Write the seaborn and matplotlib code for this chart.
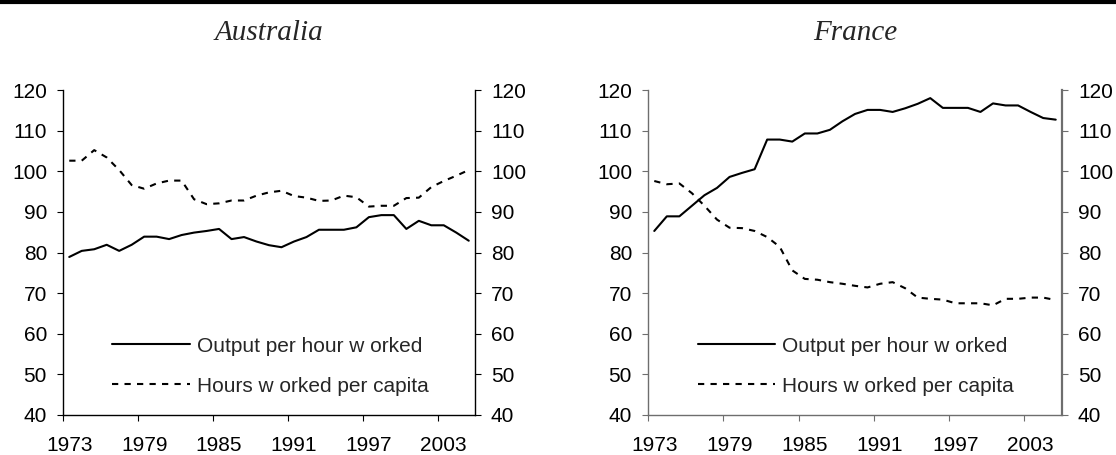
import numpy as np
import pandas as pd
import matplotlib
matplotlib.use("Agg")
import matplotlib.pyplot as plt
from matplotlib.lines import Line2D
import seaborn as sns

# ---------------- data ----------------
years = list(range(1973, 2006))
tick_years = [1973, 1979, 1985, 1991, 1997, 2003]
y_ticks = [40, 50, 60, 70, 80, 90, 100, 110, 120]

aus_output = [78.9, 80.4, 80.8, 81.9, 80.4, 81.9, 83.9, 83.9, 83.3, 84.3, 84.9,
              85.3, 85.8, 83.3, 83.8, 82.7, 81.8, 81.3, 82.7, 83.8, 85.6, 85.6,
              85.6, 86.2, 88.7, 89.2, 89.2, 85.8, 87.8, 86.7, 86.7, 84.9, 82.9]
aus_hours = [102.6, 102.6, 105.2, 103.4, 100.3, 96.6, 95.7, 97.0, 97.7, 97.7, 93.1,
             91.9, 92.1, 92.8, 92.8, 94.0, 94.8, 95.2, 93.9, 93.5, 92.7, 92.8,
             94.0, 93.6, 91.3, 91.5, 91.5, 93.4, 93.5, 96.1, 97.6, 98.9, 100.3]

fra_output = [85.3, 88.9, 88.9, 91.5, 94.1, 95.9, 98.6, 99.6, 100.5, 107.8, 107.8,
              107.3, 109.3, 109.3, 110.2, 112.3, 114.1, 115.1, 115.1, 114.6, 115.5,
              116.6, 118.0, 115.6, 115.6, 115.6, 114.6, 116.7, 116.2, 116.2, 114.6,
              113.1, 112.7]
fra_hours = [97.6, 96.8, 97.0, 94.6, 91.5, 88.1, 86.1, 86.0, 85.3, 83.8, 81.4,
             75.6, 73.5, 73.3, 72.7, 72.3, 71.8, 71.4, 72.3, 72.7, 71.2, 68.9,
             68.6, 68.4, 67.5, 67.5, 67.5, 67.0, 68.6, 68.6, 68.9, 68.9, 68.3]

titles = ["Australia", "France"]
labels = ["Output per hour w orked", "Hours w orked per capita"]

# ---------------- style ----------------
sns.set_theme(style="white")
plt.rcParams["font.family"] = ["Liberation Sans", "DejaVu Sans"]

W, H, DPI = 1116, 455, 100
fig = plt.figure(figsize=(W / DPI, H / DPI), dpi=DPI)

panels = [
    dict(title=titles[0], out=aus_output, hrs=aus_hours, left=63, right=475, spine="black"),
    dict(title=titles[1], out=fra_output, hrs=fra_hours, left=648, right=1062, spine="#6e6e6e"),
]
top_px, bot_px = 90, 415
FS = 15
dash = (0, (3, 3))

for p in panels:
    ax = fig.add_axes([p["left"] / W, 1 - bot_px / H, (p["right"] - p["left"]) / W,
                       (bot_px - top_px) / H])
    df = pd.DataFrame({"year": years, "out": p["out"], "hrs": p["hrs"]})
    sns.lineplot(data=df, x="year", y="out", ax=ax, color="black", linewidth=1.5,
                 label=labels[0])
    sns.lineplot(data=df, x="year", y="hrs", ax=ax, color="black", linewidth=1.5,
                 linestyle=dash, label=labels[1])
    ax.set_xlim(years[0] - 0.5, years[-1] + 0.5)
    ax.set_ylim(y_ticks[0], y_ticks[-1])
    ax.set_xlabel("")
    ax.set_ylabel("")
    ax.set_yticks(y_ticks)
    ax.set_xticks(tick_years)
    ax.set_xticklabels([str(t) for t in tick_years])
    ax.set_xticks([t - 0.5 for t in tick_years], minor=True)
    ax.tick_params(axis="x", which="major", length=0, pad=15, labelsize=FS, colors="black")
    ax.tick_params(axis="x", which="minor", bottom=True, length=4.5, width=0.8,
                   color=p["spine"])
    ax.tick_params(axis="y", left=True, length=4.5, width=0.8, pad=7, labelsize=FS,
                   color=p["spine"], labelcolor="black")
    for s in ["top", "right"]:
        ax.spines[s].set_visible(False)
    for s in ["left", "bottom"]:
        ax.spines[s].set_color(p["spine"])
        ax.spines[s].set_linewidth(1.0)

    ax2 = ax.twinx()
    ax2.set_ylim(y_ticks[0], y_ticks[-1])
    ax2.set_yticks(y_ticks)
    ax2.tick_params(axis="y", right=True, length=4.5, width=0.8, pad=7, labelsize=FS,
                    color=p["spine"], labelcolor="black")
    for s in ["top", "left", "bottom"]:
        ax2.spines[s].set_visible(False)
    ax2.spines["right"].set_color(p["spine"])
    ax2.spines["right"].set_linewidth(1.0 if p["spine"] == "black" else 1.6)
    ax2.grid(False)
    ax.grid(False)

    leg = ax.legend(loc="lower left", bbox_to_anchor=(0.12, 0.06), frameon=False,
                    fontsize=FS, handlelength=3.7, handletextpad=0.35,
                    labelspacing=1.0, borderpad=0, borderaxespad=0)

    cx = (p["left"] + p["right"]) / 2 / W
    fig.text(cx, 1 - 40 / H, p["title"], ha="center", va="baseline", fontsize=21,
             family=["Liberation Serif", "DejaVu Serif"], style="italic")

fig.add_artist(Line2D([0, 1], [1 - 2 / H, 1 - 2 / H], color="black", linewidth=3,
                      transform=fig.transFigure))

fig.savefig("out.png", dpi=DPI)
